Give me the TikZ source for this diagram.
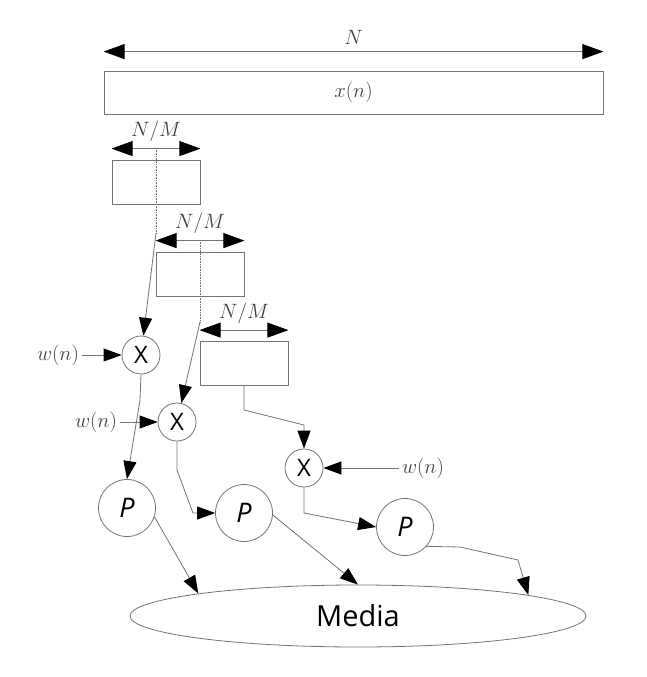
\documentclass[tikz,border=0pt]{standalone}
\usepackage{fontspec}
\setsansfont{Open Sans}
\usetikzlibrary{arrows.meta,positioning,shapes.geometric}

\begin{document}
\begin{tikzpicture}[x=1pt, y=-1pt,
    wire/.style={draw=black!55, line width=0.8pt},
    seg/.style={wire, minimum width=88pt, minimum height=44pt, inner sep=0pt},
    mul/.style={wire, circle, minimum size=38pt, inner sep=0pt, font=\sffamily\fontsize{24}{24}\selectfont},
    pow/.style={wire, circle, minimum size=57pt, inner sep=0pt, font=\sffamily\itshape\fontsize{27}{27}\selectfont},
    lbl/.style={text=black!75, font=\fontsize{20}{24}\selectfont},
    dim/.style={wire, {Triangle[length=21pt,width=15pt,color=black]}-{Triangle[length=21pt,width=15pt,color=black]}},
    arr/.style={wire, -{Triangle[length=18pt,width=13pt,color=black]}},
    dots/.style={draw=black!55, line width=0.6pt, densely dotted}]
    \useasboundingbox (0,0) rectangle (646,677);

    % input signal
    \node[wire, minimum width=499pt, minimum height=43pt, inner sep=0pt, lbl] (xn) at (353.5,92.5) {$x(n)$};
    \draw[dim] ([yshift=19pt]xn.north west) -- node[lbl, above=3pt] {$N$} ([yshift=19pt]xn.north east);

    % segments
    \node[seg] (b1) at (156,182) {};
    \node[seg] (b2) at (200,274) {};
    \node[seg] (b3) at (244,363.5) {};
    \draw[dim] ([yshift=11pt]b1.north west) -- node[lbl, above=3pt] {$N/M$} ([yshift=11pt]b1.north east);
    \draw[dim] ([yshift=11pt]b2.north west) -- node[lbl, above=3pt] {$N/M$} ([yshift=11pt]b2.north east);
    \draw[dim] ([yshift=11pt]b3.north west) -- node[lbl, above=3pt] {$N/M$} ([yshift=11pt]b3.north east);
    \coordinate (t1) at (156,233);
    \coordinate (t2) at (200,322);
    \draw[dots] ([yshift=10pt]b1.north) -- (t1);
    \draw[dots] ([yshift=10pt]b2.north) -- (t2);

    % windowing
    \node[mul] (m1) at (141,355) {X};
    \node[mul] (m2) at (177,422) {X};
    \node[mul] (m3) at (304,468) {X};
    \node[lbl] (w1) at (58,355) {$w(n)$};
    \node[lbl] (w2) at (96,422) {$w(n)$};
    \node[lbl] (w3) at (423,468) {$w(n)$};

    % periodograms
    \node[pow] (p1) at (127,508) {P};
    \node[pow] (p2) at (244,513) {P};
    \node[pow] (p3) at (405,527) {P};
    \node[wire, ellipse, minimum width=456pt, minimum height=62pt, inner sep=0pt, font=\sffamily\fontsize{29}{29}\selectfont] (media) at (358,616) {Media};

    \draw[arr] (t1) -- (m1);
    \draw[arr] (t2) -- (m2);
    \draw[arr] (b3.south) -- (244,410) -- (304,425) -- (m3.north);
    \draw[arr] (w1) -- (m1);
    \draw[arr] (w2) -- (m2);
    \draw[arr] (w3) -- (m3);
    \draw[arr] (m1.south) -- (140,400) -- (p1.north);
    \draw[arr] (m2.south) -- (177,470) -- (193,513) -- (p2.west);
    \draw[arr] (m3.south) -- (304,513) -- (p3.west);
    \draw[arr] (p1.-18) -- (media.172);
    \draw[arr] (p2.-4) -- (media.north);
    \draw[arr] (p3.-42) -- (460,547) -- (518,560) -- (media.7.8);
\end{tikzpicture}
\end{document}
